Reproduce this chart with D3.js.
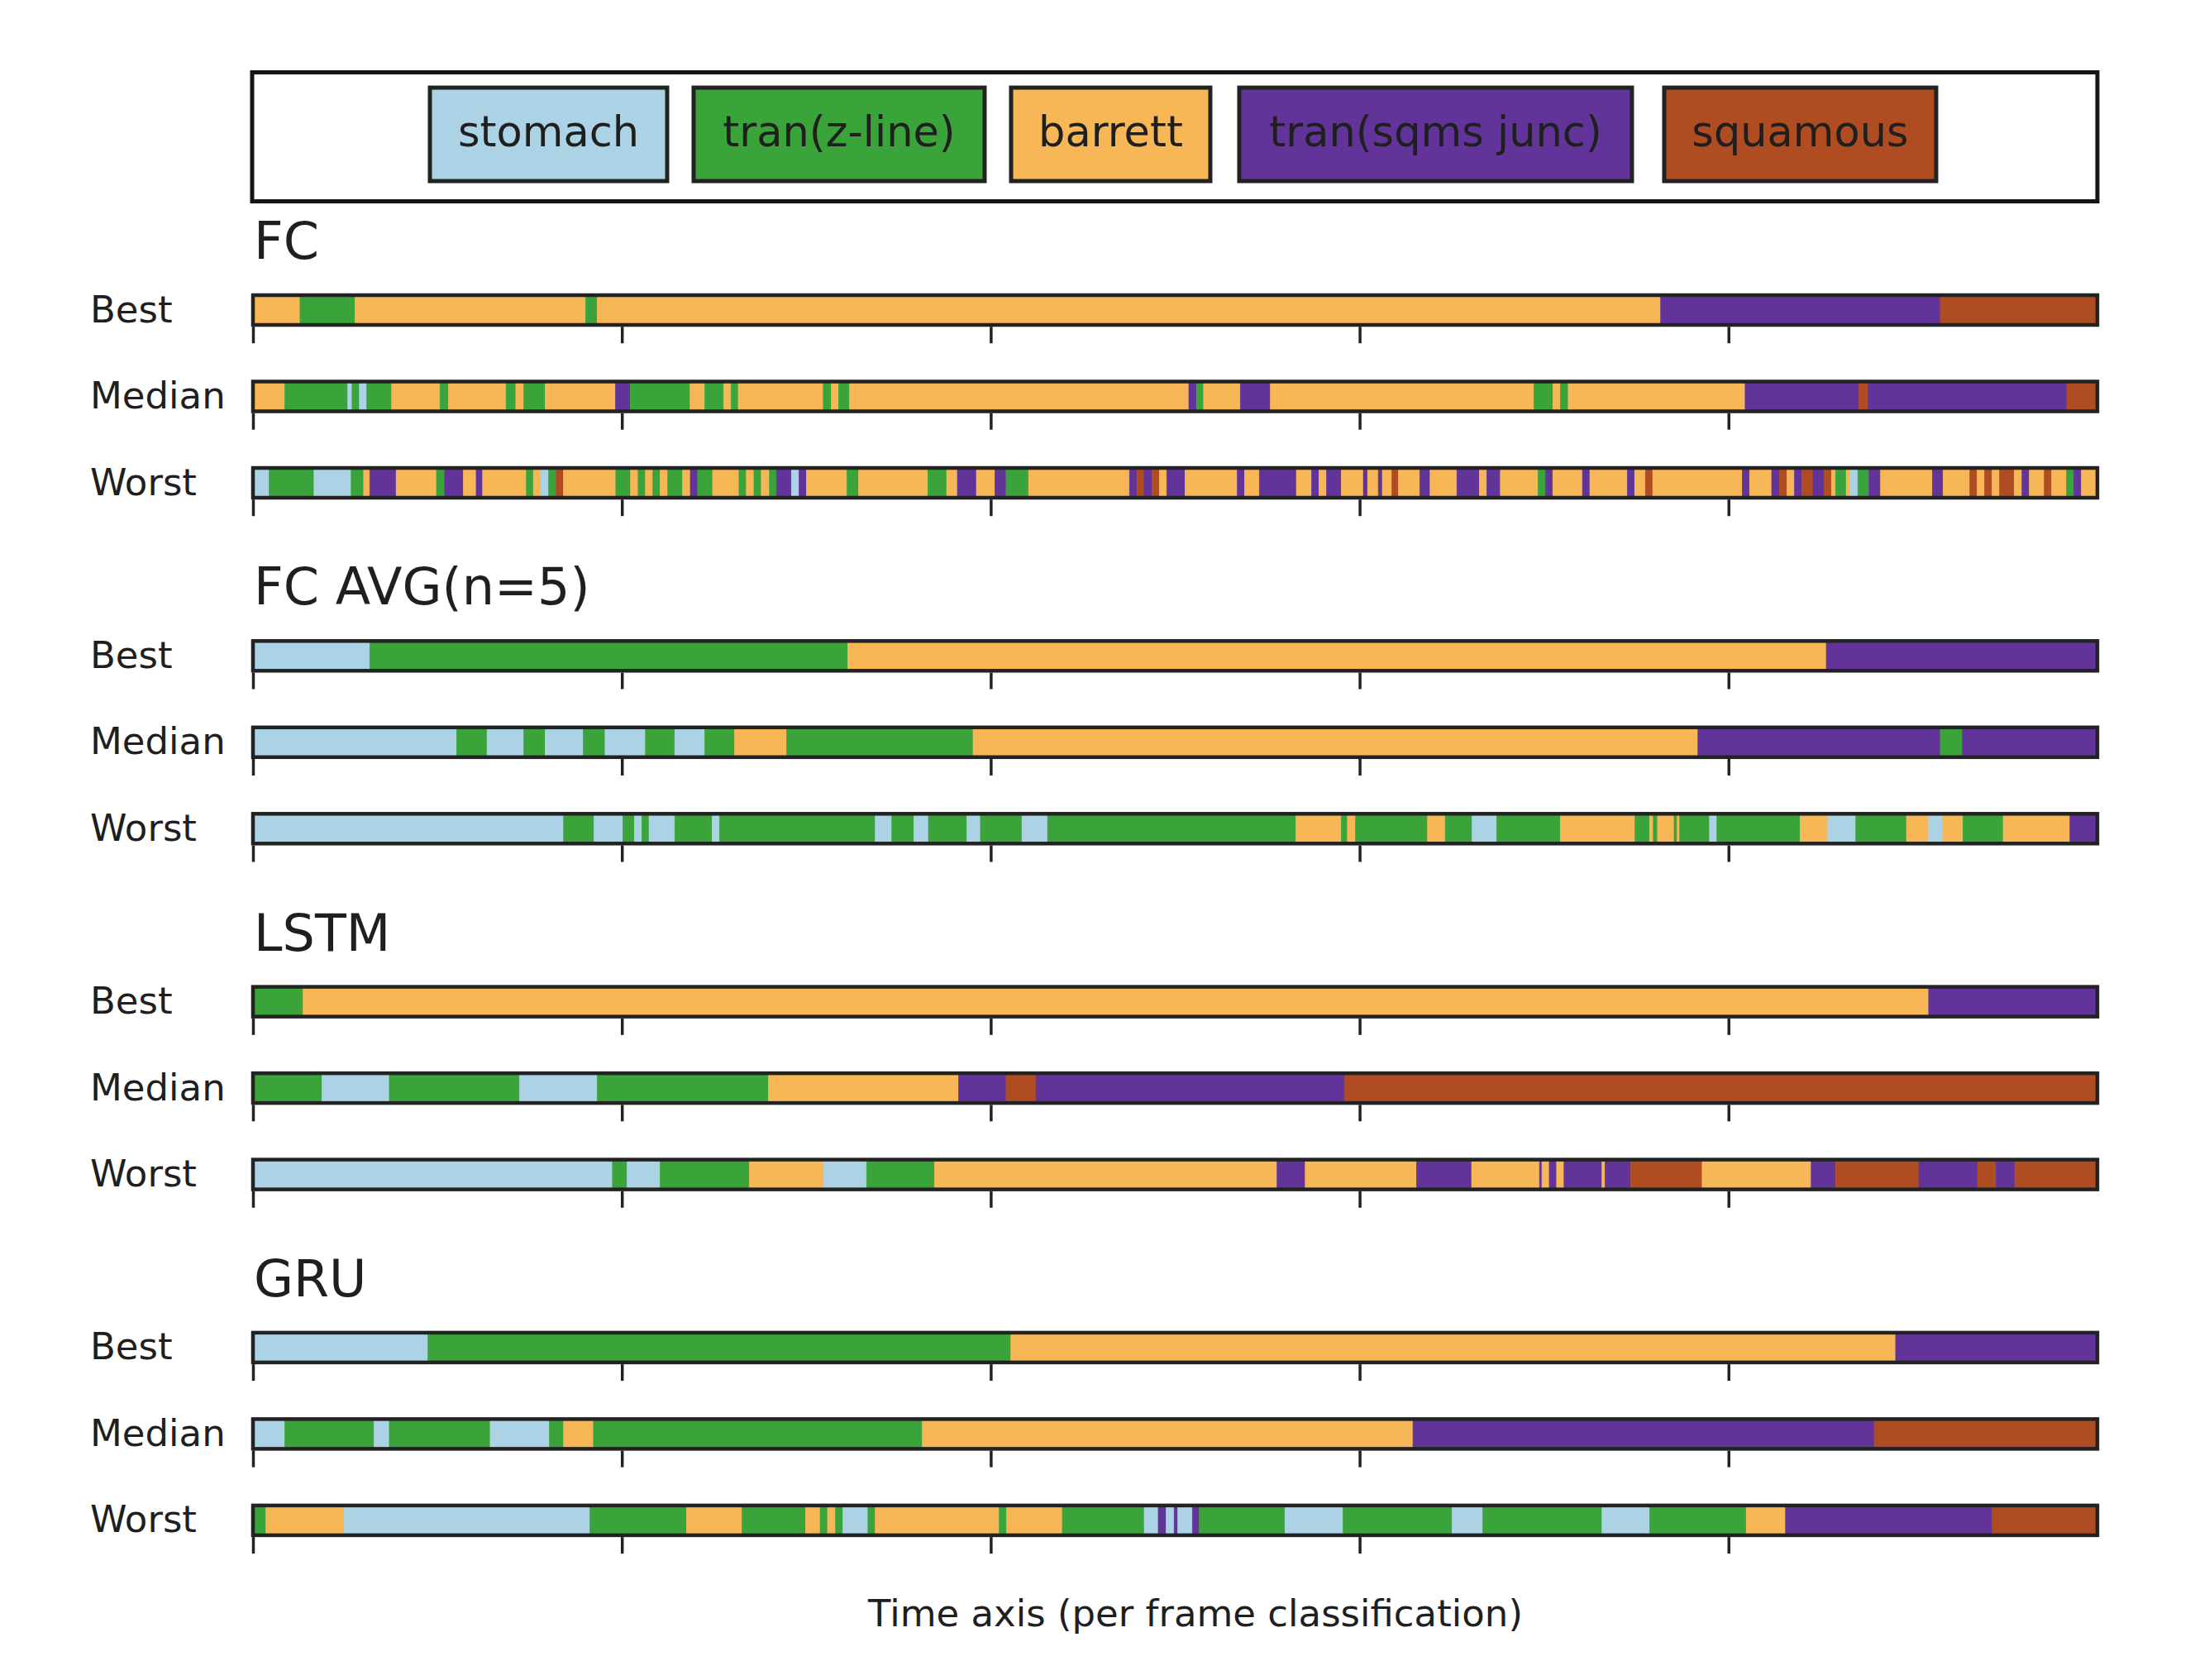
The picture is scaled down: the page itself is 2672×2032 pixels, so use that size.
<!DOCTYPE html>
<html>
<head>
<meta charset="utf-8">
<script src="https://cdn.jsdelivr.net/npm/d3@7"></script>
<style>
  html, body { margin: 0; padding: 0; background: #fff; }
  svg { display: block; }
  text { font-family: "DejaVu Sans", sans-serif; fill: #1f1f1f; }
</style>
</head>
<body>
<svg id="chart" width="2672" height="2032"></svg>
<script>
// ---------------- DATA ----------------
const classNames = ["stomach", "tran(z-line)", "barrett", "tran(sqms junc)", "squamous"];
const classCodes = ["S", "Z", "B", "J", "Q"];
const classColors = ["#abd3e5", "#3aa43b", "#f7b757", "#62349a", "#af4c22"];

const modelNames = ["FC", "FC AVG(n=5)", "LSTM", "GRU"];
const rowNames = ["Best", "Median", "Worst"];
const xTicks = [0, 200, 400, 600, 800];
const xLabel = "Time axis (per frame classification)";

// each run: [class code, end position on the time axis 0..1000]
const fcBest = [["B",25.5],["Z",55.3],["B",180.3],["Z",186.6],["B",763.2],["J",914.8],["Q",1000]];
const fcMedian = [["B",17.2],["Z",51.4],["S",53.7],["Z",57.7],["S",61.6],["Z",75.2],["B",101.4],["Z",106],["B",137.2],["Z",142.5],["B",146.8],["Z",158.4],["B",196.5],["J",204.5],["Z",237],["B",244.9],["Z",255.2],["B",259.2],["Z",263.1],["B",309.2],["Z",313.5],["B",317.5],["Z",323.4],["B",507.4],["J",511.5],["Z",515.4],["B",535.3],["J",551.6],["B",694.5],["Z",704.8],["B",708.8],["Z",713.1],["B",809],["J",870.7],["Q",875.6],["J",983.4],["Q",1000]];
const fcWorst = [["S",8.7],["Z",33.1],["S",53.2],["Z",60],["B",63.3],["J",77.6],["B",99.5],["Z",103.9],["J",114],["B",121],["J",124.5],["B",148.2],["Z",152],["B",156],["S",160.2],["Z",164.3],["Q",168.3],["B",196.7],["Z",204.7],["B",208.8],["Z",212.8],["B",216.8],["Z",220.8],["B",224.8],["Z",232.9],["B",237.1],["J",241.1],["Z",249.2],["B",263.5],["Z",267.5],["B",271.6],["Z",275.6],["B",279.9],["Z",283.8],["J",291.9],["S",296],["J",300],["B",322],["Z",328.3],["B",365.9],["Z",376.1],["B",381.9],["J",392.2],["B",402.2],["J",408.3],["Z",420.5],["B",475.2],["J",479.2],["Q",483.2],["J",487.4],["Q",491.4],["B",495.4],["J",505.3],["B",533.6],["J",537.6],["B",545.6],["J",565.7],["B",573.9],["J",577.9],["B",582],["J",590],["B",602],["J",604.3],["B",610.1],["J",612.3],["B",617.5],["Q",621],["B",632.6],["J",638.2],["B",652.7],["J",664.9],["B",668.9],["J",676.3],["B",696.7],["Z",700.7],["J",704.7],["B",720.8],["J",724.8],["B",745.1],["J",749.1],["B",754.9],["Q",758.9],["B",807.4],["J",811.4],["B",823.4],["J",827.5],["Q",831.7],["B",835.7],["J",839.7],["Q",845.8],["J",851.8],["Q",855.8],["B",858],["Z",863.8],["B",866],["S",870.1],["Z",876.1],["J",882.4],["B",910.5],["J",916.3],["B",930.8],["Q",934.8],["B",938.8],["Q",942.9],["B",946.9],["Q",954.9],["B",959.1],["J",963.1],["B",971.2],["Q",975.2],["B",983.2],["Z",987.2],["J",991.3],["B",1000]];

const fcavgBest = [["S",63.3],["Z",322.5],["B",853],["J",1000]];
const fcavgMedian = [["S",110.4],["Z",126.9],["S",146.8],["Z",158.4],["S",179],["Z",190.9],["S",212.8],["Z",228.7],["S",244.9],["Z",261.1],["B",289.3],["Z",390.4],["B",783.4],["J",914.8],["Z",926.8],["J",1000]];
const fcavgWorst = [["S",168.4],["Z",184.9],["S",200.5],["Z",206.8],["S",210.8],["Z",214.7],["S",228.7],["Z",248.9],["S",252.9],["Z",337.4],["S",346.3],["Z",358.3],["S",366.2],["Z",387.1],["S",394.4],["Z",416.9],["S",430.8],["Z",565.5],["B",590],["Z",593.4],["B",597.7],["Z",636.8],["B",646.4],["Z",661],["S",674.3],["Z",708.8],["B",749.3],["Z",757.2],["B",759.2],["Z",761.5],["B",770.5],["Z",772.2],["B",773.5],["Z",789.7],["S",793.7],["Z",838.8],["B",853.8],["S",869],["Z",896.5],["B",908.5],["S",916.1],["B",927.1],["Z",948.9],["B",985.1],["J",1000]];

const lstmBest = [["Z",27.2],["B",908.5],["J",1000]];
const lstmMedian = [["Z",37.4],["S",73.9],["Z",144.5],["S",186.6],["Z",279.4],["B",382.5],["J",408.3],["Q",424.5],["J",592],["Q",1000]];
const lstmWorst = [["S",194.9],["Z",202.8],["S",220.7],["Z",269.1],["B",309.5],["S",332.7],["Z",369.5],["B",555.2],["J",570.5],["B",630.8],["J",660.7],["B",697.5],["J",698.8],["B",702.8],["J",706.8],["B",710.8],["J",731.4],["B",733],["J",746.9],["Q",785.7],["B",844.8],["J",858],["Q",903.2],["J",935],["Q",945],["J",955.2],["Q",1000]];

const gruBest = [["S",94.8],["Z",410.9],["B",890.6],["J",1000]];
const gruMedian = [["S",17.2],["Z",65.6],["S",73.9],["Z",128.6],["S",160.7],["Z",168.4],["B",184.6],["Z",362.9],["B",628.9],["J",879],["Q",1000]];
const gruWorst = [["Z",7],["B",49.4],["S",182.6],["Z",235],["B",265.1],["Z",299.6],["B",307.5],["Z",311.5],["B",315.8],["Z",319.8],["S",333.4],["Z",337.4],["B",404.6],["Z",408.6],["B",438.8],["Z",483.2],["S",490.8],["J",495.1],["S",499.4],["J",501.4],["S",509.3],["J",513.1],["Z",559.5],["S",591],["Z",650.1],["S",666.7],["Z",731.4],["S",757.2],["Z",809.6],["B",830.9],["J",943],["Q",1000]];

const modelRuns = [
  [fcBest, fcMedian, fcWorst],
  [fcavgBest, fcavgMedian, fcavgWorst],
  [lstmBest, lstmMedian, lstmWorst],
  [gruBest, gruMedian, gruWorst]
];

// ---------------- LAYOUT ----------------
const svg = d3.select("#chart");
svg.append("rect").attr("width", 2672).attr("height", 2032).attr("fill", "#fff");

const x = d3.scaleLinear().domain([0, 1000]).range([306, 2537]);
const color = d3.scaleOrdinal().domain(classCodes).range(classColors);

const firstCenter = 375, groupStep = 418.3, rowStep = 104.5, halfH = 18;
const stroke = "#222";

// legend (box extents in pixels, layout only)
const legendBoxX = [[520, 807], [839, 1191], [1223, 1464], [1499, 1974], [2013, 2342]];
const legend = svg.append("g");
legend.append("rect")
  .attr("x", 305).attr("y", 87.5).attr("width", 2537 - 305).attr("height", 243.5 - 87.5)
  .attr("fill", "none").attr("stroke", "#151515").attr("stroke-width", 5);

const legendItems = legend.selectAll("g.item").data(classNames).join("g").attr("class", "item");
legendItems.append("rect")
  .attr("x", (d, i) => legendBoxX[i][0]).attr("y", 106)
  .attr("width", (d, i) => legendBoxX[i][1] - legendBoxX[i][0]).attr("height", 113)
  .attr("fill", (d, i) => classColors[i]).attr("stroke", stroke).attr("stroke-width", 5);
legendItems.append("text")
  .text(d => d)
  .attr("x", (d, i) => (legendBoxX[i][0] + legendBoxX[i][1]) / 2)
  .attr("y", 159.5)
  .attr("font-size", 51)
  .attr("text-anchor", "middle")
  .attr("dy", "0.35em");

// groups
modelNames.forEach((name, gi) => {
  const top = firstCenter + gi * groupStep;
  svg.append("text")
    .attr("x", 307).attr("y", top - 62)
    .attr("font-size", 62)
    .text(name);

  rowNames.forEach((rn, ri) => {
    const cy = top + ri * rowStep;
    const runs = modelRuns[gi][ri];
    let prev = 0;
    const segs = runs.map(([c, end]) => { const s = { c, start: prev, end }; prev = end; return s; });

    const row = svg.append("g");
    row.selectAll("rect.seg").data(segs).join("rect")
      .attr("class", "seg")
      .attr("x", d => x(d.start))
      .attr("width", d => Math.max(0.5, x(d.end) - x(d.start)))
      .attr("y", cy - halfH).attr("height", 2 * halfH)
      .attr("fill", d => color(d.c))
      .attr("stroke", d => color(d.c)).attr("stroke-width", 0.6);

    row.append("rect")
      .attr("x", x(0)).attr("y", cy - halfH)
      .attr("width", x(1000) - x(0)).attr("height", 2 * halfH)
      .attr("fill", "none").attr("stroke", stroke).attr("stroke-width", 4.5);

    const axis = d3.axisBottom(x).tickValues(xTicks).tickSize(20).tickFormat("");
    const ag = row.append("g")
      .attr("transform", `translate(0,${cy + halfH + 2.2})`)
      .call(axis);
    ag.select(".domain").remove();
    ag.selectAll(".tick line").attr("stroke", stroke).attr("stroke-width", 3.5);

    row.append("text")
      .attr("x", 109).attr("y", cy + 14.5)
      .attr("font-size", 45)
      .text(rn);
  });
});

svg.append("text")
  .attr("x", 1446).attr("y", 1967)
  .attr("font-size", 45)
  .attr("text-anchor", "middle")
  .text(xLabel);
</script>
</body>
</html>
